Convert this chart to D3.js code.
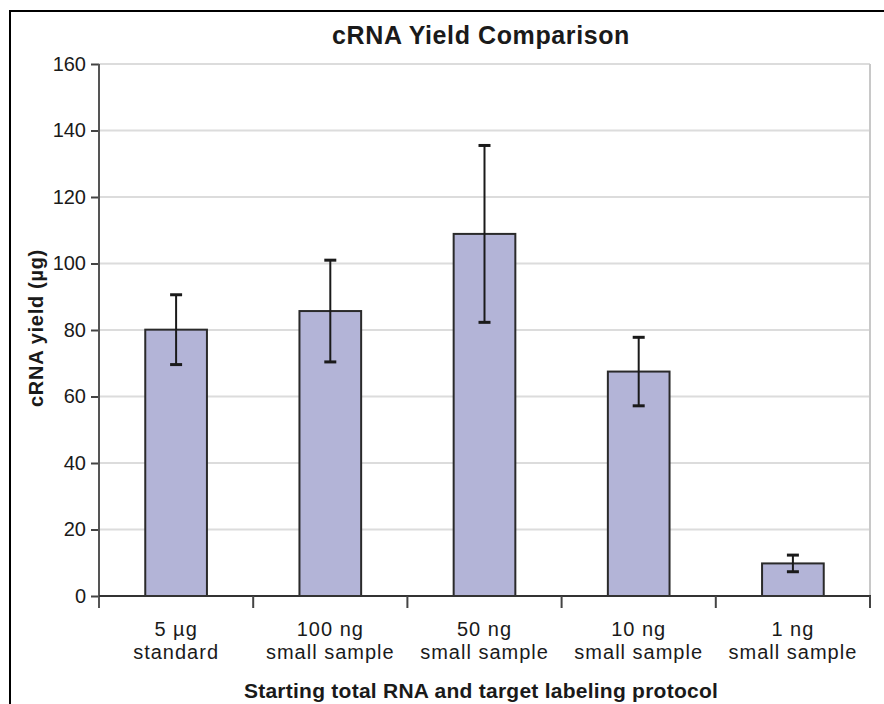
<!DOCTYPE html>
<html><head><meta charset="utf-8">
<script src="https://cdn.jsdelivr.net/npm/d3@7"></script>
<style>body{margin:0;background:#fff}svg{display:block}text{font-family:"Liberation Sans",Arial,sans-serif;fill:#1a1a1a}</style>
</head><body>
<script>
const categories = [["5 µg","standard"],["100 ng","small sample"],["50 ng","small sample"],["10 ng","small sample"],["1 ng","small sample"]];
const yields = [80.1, 85.7, 108.9, 67.5, 9.8];
const errors = [10.5, 15.3, 26.6, 10.3, 2.5];
const yTicks = [0,20,40,60,80,100,120,140,160];

const W=884,H=704;
const m={l:99,r:870,t:64,b:596};
const svg=d3.select("body").append("svg").attr("width",W).attr("height",H);
// frame
svg.append("path").attr("d",`M10,${H} V11 H${W}`).attr("fill","none").attr("stroke","#000").attr("stroke-width",2);

const x=d3.scaleBand().domain(d3.range(categories.length)).range([m.l,m.r]).paddingInner(0.6).paddingOuter(0.3);
const y=d3.scaleLinear().domain([0,160]).range([m.b,m.t]);

// grid
svg.append("g").selectAll("line").data(yTicks.filter(d=>d>0)).join("line")
 .attr("x1",m.l).attr("x2",m.r).attr("y1",d=>y(d)).attr("y2",d=>y(d))
 .attr("stroke","#dcdcdc").attr("stroke-width",2);
svg.append("line").attr("x1",m.r).attr("x2",m.r).attr("y1",m.t).attr("y2",m.b).attr("stroke","#c8c8c8").attr("stroke-width",2);

// bars
svg.append("g").selectAll("rect").data(yields).join("rect")
 .attr("x",(d,i)=>x(i)).attr("width",x.bandwidth())
 .attr("y",d=>y(d)).attr("height",d=>y(0)-y(d))
 .attr("fill","#b3b4d7").attr("stroke","#2a2a2a").attr("stroke-width",2);

// error bars
const eg=svg.append("g").attr("stroke","#1a1a1a").attr("stroke-width",2);
yields.forEach((v,i)=>{
  const cx=x(i)+x.bandwidth()/2, e=errors[i];
  eg.append("line").attr("x1",cx).attr("x2",cx).attr("y1",y(v+e)).attr("y2",y(v-e));
  eg.append("line").attr("x1",cx-6).attr("x2",cx+6).attr("y1",y(v+e)).attr("y2",y(v+e)).attr("stroke-width",3);
  eg.append("line").attr("x1",cx-6).attr("x2",cx+6).attr("y1",y(v-e)).attr("y2",y(v-e)).attr("stroke-width",3);
});

// y axis
const ya=svg.append("g").attr("transform",`translate(${m.l},0)`)
 .call(d3.axisLeft(y).tickValues(yTicks).tickSize(8).tickPadding(5));
ya.select(".domain").remove();
ya.selectAll("line").attr("stroke","#444").attr("stroke-width",2);
ya.selectAll("text").attr("font-size",20).attr("font-family","Liberation Sans, Arial, sans-serif").attr("fill","#1a1a1a");
svg.append("line").attr("x1",m.l).attr("x2",m.l).attr("y1",m.t).attr("y2",m.b+12).attr("stroke","#555").attr("stroke-width",2);

// x axis
svg.append("line").attr("x1",m.l).attr("x2",m.r+1).attr("y1",m.b).attr("y2",m.b).attr("stroke","#333").attr("stroke-width",2);
const step=(m.r-m.l)/categories.length;
svg.append("g").selectAll("line").data(d3.range(1,categories.length+1)).join("line")
 .attr("x1",i=>m.l+i*step).attr("x2",i=>m.l+i*step).attr("y1",m.b).attr("y2",m.b+12)
 .attr("stroke","#444").attr("stroke-width",2);

const xl=svg.append("g").selectAll("text").data(categories).join("text")
 .attr("text-anchor","middle").attr("font-size",20).attr("letter-spacing",1)
 .attr("transform",(d,i)=>`translate(${x(i)+x.bandwidth()/2},0)`);
xl.append("tspan").attr("x",0).attr("y",636).text(d=>d[0]);
xl.append("tspan").attr("x",0).attr("y",659).text(d=>d[1]);

// titles
svg.append("text").attr("x",481).attr("y",44).attr("text-anchor","middle").attr("font-size",25).attr("font-weight","bold").attr("letter-spacing",0.6).text("cRNA Yield Comparison");
svg.append("text").attr("x",481).attr("y",698).attr("text-anchor","middle").attr("font-size",21).attr("font-weight","bold").attr("letter-spacing",0.25).text("Starting total RNA and target labeling protocol");
svg.append("text").attr("transform","translate(43,328) rotate(-90)").attr("text-anchor","middle").attr("font-size",20).attr("font-weight","bold").attr("letter-spacing",0.7).text("cRNA yield (µg)");
</script>
</body></html>
